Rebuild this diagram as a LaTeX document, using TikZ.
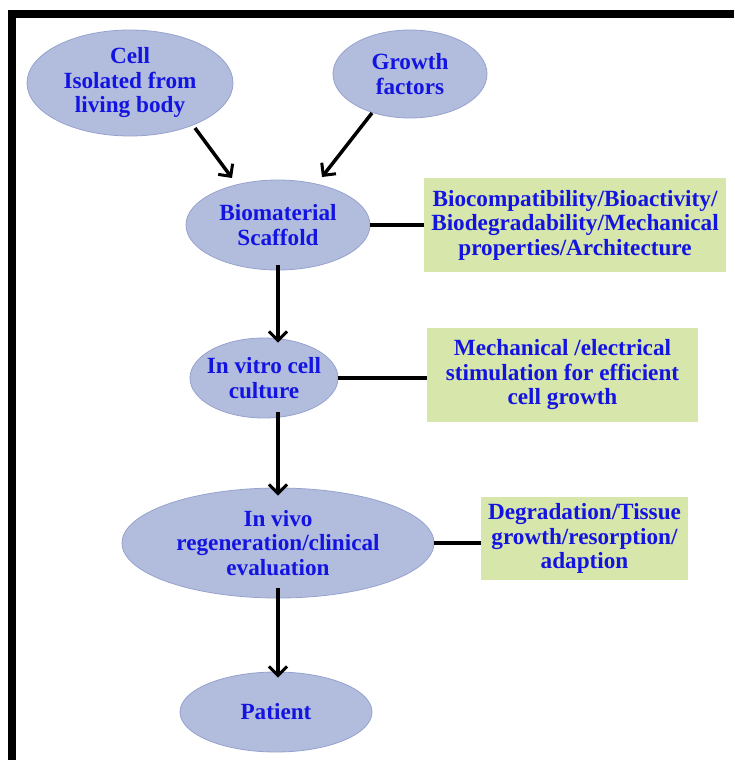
\documentclass[tikz,border=0pt]{standalone}
\usepackage{fontspec}
\setmainfont{Liberation Serif}
\usetikzlibrary{shapes.geometric,arrows.meta}
\definecolor{ellfill}{RGB}{178,189,222}
\definecolor{elldraw}{RGB}{150,162,205}
\definecolor{boxfill}{RGB}{215,230,170}
\definecolor{txtblue}{RGB}{20,20,225}
\tikzset{
  ell/.style={ellipse, fill=ellfill, draw=elldraw, line width=0.8pt, inner sep=0pt,
    text=txtblue, font=\fontsize{23.2}{24.5}\selectfont\bfseries, align=center},
  gbox/.style={rectangle, fill=boxfill, draw=none, inner sep=0pt,
    text=txtblue, font=\fontsize{23.2}{24.5}\selectfont\bfseries, align=center},
  arr/.style={line width=3.5pt, -{Straight Barb[length=9pt,width=18pt,line width=3pt]}},
  lnk/.style={line width=3.5pt},
}
\begin{document}
\begin{tikzpicture}[x=1pt,y=-1pt]
\useasboundingbox (0,0) rectangle (734,760);
\fill[white] (0,0) rectangle (734,760);
% frame
\fill[black] (8,10) rectangle (734,18);
\fill[black] (8,10) rectangle (16,760);
% ellipses
\node[ell, minimum width=206, minimum height=106] (cell) at (130,83) {Cell\\Isolated from\\living body};
\node[ell, minimum width=154, minimum height=88] (gf) at (410,74) {Growth\\factors};
\node[ell, minimum width=184, minimum height=90] (scaf) at (278,225) {Biomaterial\\Scaffold};
\node[ell, inner xsep=-7pt, minimum width=148, minimum height=80] (vitro) at (264,378) {In vitro cell\\culture};
\node[ell, minimum width=312, minimum height=110] (vivo) at (278,543) {In vivo\\regeneration/clinical\\evaluation};
\node[ell, minimum width=192, minimum height=80] (pat) at (276,712) {Patient};
% boxes
\node[gbox, minimum width=302, minimum height=94] (bA) at (575,225) {Biocompatibility/Bioactivity/\\Biodegradability/Mechanical\\properties/Architecture};
\node[gbox, minimum width=271, minimum height=94] (bB) at (562.5,375) {Mechanical /electrical\\stimulation for efficient\\cell growth};
\node[gbox, minimum width=207, minimum height=83] (bC) at (584.5,538.5) {Degradation/Tissue\\growth/resorption/\\adaption};
% coordinates for arrows
\coordinate (a1s) at (195,128);
\coordinate (a1e) at (232,178);
\coordinate (a2s) at (372,113);
\coordinate (a2e) at (322,177);
\draw[arr] (a1s) -- (a1e);
\draw[arr] (a2s) -- (a2e);
\draw[arr] ([yshift=5]scaf.south -| 278,0) -- ([yshift=-5]vitro.north -| 278,0);
\draw[arr] ([yshift=6]vitro.south -| 278,0) -- ([yshift=-8]vivo.north -| 278,0);
\draw[arr] ([yshift=10]vivo.south -| 278,0) -- ([yshift=-6]pat.north -| 278,0);
% links
\draw[lnk] (scaf.east) -- (scaf.east -| bA.west);
\draw[lnk] (vitro.east) -- (vitro.east -| bB.west);
\draw[lnk] (vivo.east) -- (vivo.east -| bC.west);
\end{tikzpicture}
\end{document}
